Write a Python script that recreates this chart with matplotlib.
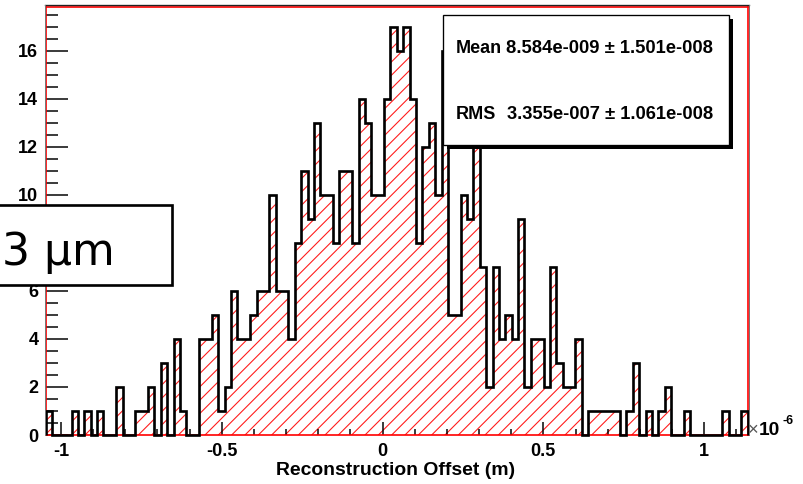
import numpy as np
import matplotlib
matplotlib.use("Agg")
import matplotlib.pyplot as plt
from matplotlib.patches import Rectangle
from matplotlib.ticker import MultipleLocator

# Histogram contents (110 equal-width bins)
counts = [1, 0, 0, 0, 1, 0, 1, 0, 1, 0,
          0, 2, 0, 0, 1, 1, 2, 0, 3, 0,
          4, 1, 0, 0, 4, 4, 5, 1, 2, 6,
          4, 4, 5, 6, 6, 10, 6, 6, 4, 8,
          11, 9, 13, 10, 10, 8, 11, 11, 8, 14,
          13, 10, 10, 14, 17, 16, 17, 14, 8, 12,
          13, 10, 16, 5, 5, 10, 9, 12, 7, 2,
          7, 4, 5, 4, 9, 2, 4, 4, 2, 7,
          3, 2, 2, 4, 0, 1, 1, 1, 1, 1,
          0, 1, 3, 0, 1, 0, 1, 2, 0, 0,
          1, 0, 0, 0, 0, 0, 1, 0, 0, 1]
x_low, x_high = -1.0465e-6, 1.1354e-6     # histogram range (m)
x_scale = 1e-6                              # axis shown in units of 10^-6 m

xtick_values = [-1, -0.5, 0, 0.5, 1]
xtick_labels = ["-1", "-0.5", "0", "0.5", "1"]
ytick_values = list(range(0, 17, 2))

stat_names = ["Mean", "RMS"]
stat_values = ["8.584e-009 \u00b1 1.501e-008", "3.355e-007 \u00b1 1.061e-008"]
axis_title = "Reconstruction Offset (m)"
callout_text = "3 \u00b5m"

W, H, DPI = 803, 484, 120
fig = plt.figure(figsize=(W / DPI, H / DPI), dpi=DPI)
fig.patch.set_facecolor("white")


def fx(px):
    return px / W


def fy(py):
    return 1 - py / H


BOLD = dict(family="Liberation Sans", weight="bold")

ax_l, ax_r, ax_t, ax_b = 46, 747.7, 6.5, 435
ax = fig.add_axes([fx(ax_l), fy(ax_b), (ax_r - ax_l) / W, (ax_b - ax_t) / H])

edges = np.linspace(x_low, x_high, len(counts) + 1) / x_scale
plt.rcParams["hatch.linewidth"] = 0.65
ax.stairs(counts, edges, baseline=0, fill=True, facecolor="none",
          edgecolor="#ff1a1a", hatch="///", linewidth=0, zorder=1.5)
ax.stairs(counts, edges, baseline=0, fill=False, color="black",
          linewidth=1.6, joinstyle="miter", zorder=3, clip_on=False)

ax.set_xlim(x_low / x_scale, x_high / x_scale)
ax.set_ylim(0, max(counts) * 1.05)

for s in ax.spines.values():
    s.set_color("red")
    s.set_linewidth(1.0)

ax.set_xticks(xtick_values)
ax.set_xticklabels(xtick_labels)
ax.xaxis.set_minor_locator(MultipleLocator(0.1))
ax.set_yticks(ytick_values)
ax.yaxis.set_minor_locator(MultipleLocator(0.5))

ax.tick_params(axis="x", which="major", direction="in", length=7.6, width=0.9,
               pad=4.5, labelsize=10.8, top=False)
ax.tick_params(axis="x", which="minor", direction="in", length=3.4, width=0.9,
               top=False)
ax.tick_params(axis="y", which="major", direction="in", length=13, width=0.9,
               pad=4.6, labelsize=10.8, right=False)
ax.tick_params(axis="y", which="minor", direction="in", length=7, width=0.9,
               right=False)
for lab in ax.get_xticklabels() + ax.get_yticklabels():
    lab.set_fontfamily("Liberation Sans")
    lab.set_fontweight("bold")

# dark outer edge of the frame (top, left, right)
fig.add_artist(plt.Line2D([fx(ax_l - 1), fx(ax_r + 1.2)], [fy(ax_t - 1.2)] * 2,
                          color="#222222", lw=0.8))
fig.add_artist(plt.Line2D([fx(ax_r + 1.2)] * 2, [fy(ax_t - 1.2), fy(ax_b)],
                          color="#777777", lw=0.6))
fig.add_artist(plt.Line2D([fx(ax_l - 1.2)] * 2, [fy(ax_t - 1.2), fy(ax_b)],
                          color="#777777", lw=0.6))

# axis title and exponent
fig.text(fx(396), fy(475), axis_title, ha="center", va="baseline",
         fontsize=11.6, **BOLD)
fig.text(fx(748), fy(435), "\u00d7", ha="left", va="baseline", fontsize=11,
         color="#555555", family="Liberation Sans")
fig.text(fx(758.5), fy(435), "10", ha="left", va="baseline", fontsize=11.5, **BOLD)
fig.text(fx(782.5), fy(423.5), "-6", ha="left", va="baseline", fontsize=7.5, **BOLD)

# statistics box with drop shadow
bx0, by0, bx1, by1 = 443.3, 15, 729.3, 145
fig.add_artist(Rectangle((fx(bx0 + 4), fy(by1 + 4)), (bx1 - bx0) / W, (by1 - by0) / H,
                         transform=fig.transFigure, facecolor="black",
                         edgecolor="none", zorder=5))
fig.add_artist(Rectangle((fx(bx0), fy(by1)), (bx1 - bx0) / W, (by1 - by0) / H,
                         transform=fig.transFigure, facecolor="white",
                         edgecolor="black", lw=0.8, zorder=6))
for name, val, base in zip(stat_names, stat_values, [53.3, 119]):
    fig.text(fx(456), fy(base), name, ha="left", va="baseline",
             fontsize=10.8, zorder=7, **BOLD)
    fig.text(fx(713.5), fy(base), val, ha="right", va="baseline",
             fontsize=11.0, zorder=7, **BOLD)

# callout box on the left
fig.add_artist(Rectangle((fx(-6), fy(284.5)), (171.7 + 6) / W, (284.5 - 205) / H,
                         transform=fig.transFigure, facecolor="white",
                         edgecolor="black", lw=1.6, zorder=8))
fig.text(fx(2), fy(265), callout_text, ha="left", va="baseline",
         fontsize=26.4, family="DejaVu Sans", zorder=9)

fig.savefig("out.png", dpi=DPI)
